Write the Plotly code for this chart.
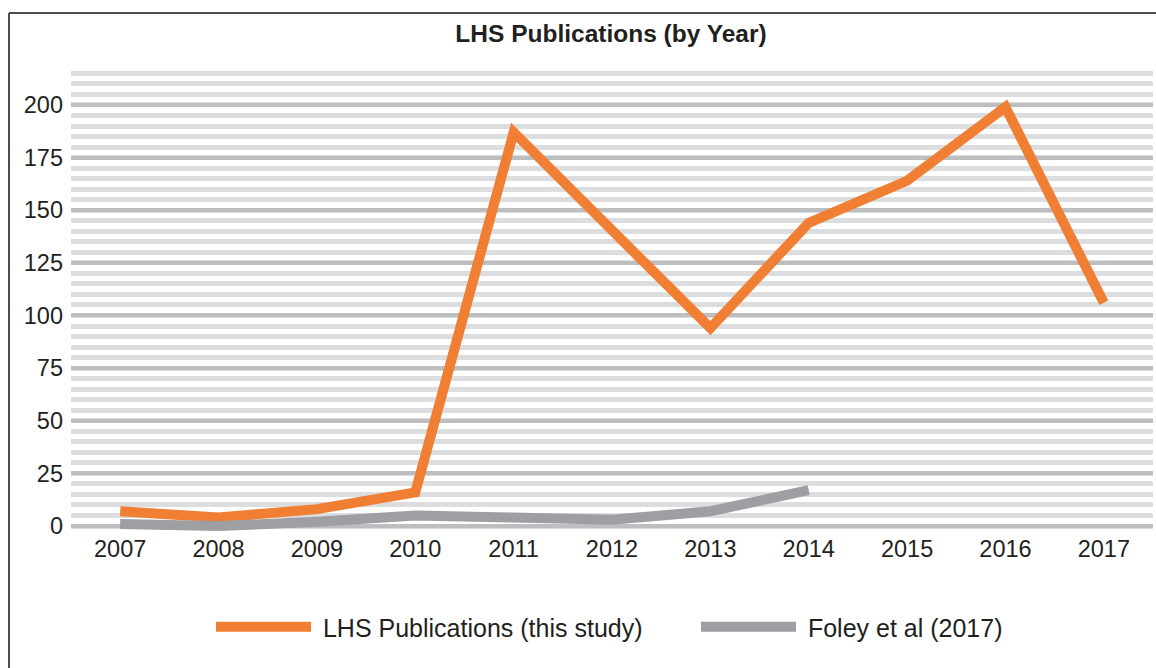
import plotly.graph_objects as go

years = ["2007", "2008", "2009", "2010", "2011", "2012", "2013", "2014", "2015", "2016", "2017"]
lhs_values = [7, 4, 8, 16, 187, 141, 94, 144, 164, 199, 106]
foley_years = ["2007", "2008", "2009", "2010", "2011", "2012", "2013", "2014"]
foley_values = [1, 0, 2, 5, 4, 3, 7, 17]
y_ticks = [0, 25, 50, 75, 100, 125, 150, 175, 200]

ORANGE = "#F07F33"
GRAY = "#9D9FA2"

fig = go.Figure()
fig.add_trace(go.Scatter(x=years, y=lhs_values, mode="lines", name="\u00a0LHS Publications (this study)",
                         line=dict(color=ORANGE, width=10), legend="legend"))
fig.add_trace(go.Scatter(x=foley_years, y=foley_values, mode="lines", name="\u00a0Foley et al (2017)",
                         line=dict(color=GRAY, width=10), legend="legend2"))

W, H = 1156, 668
L, R, T = 71, 3, 70
B = H - 532
pw = W - L - R
ph = H - T - B


def leg(x_screen):
    return dict(orientation="h", x=(x_screen - L) / pw, xanchor="left",
                y=(H - B - 627) / ph, yanchor="middle",
                font=dict(size=25, color="#231F20"), itemwidth=95,
                bgcolor="rgba(0,0,0,0)")


fx0 = (9 - L) / pw
fx1 = (W + 10 - L) / pw
fy_top = (H - B - 13) / ph
fy_bot = (H - B - (H + 10)) / ph
frame = dict(color="#4D4D4D", width=2)

fig.update_layout(
    width=W, height=H,
    margin=dict(l=L, r=R, t=T, b=B),
    paper_bgcolor="white", plot_bgcolor="white",
    font=dict(family="Liberation Sans, Arial, sans-serif", color="#231F20"),
    title=dict(text="<b>LHS Publications (by Year)</b>", x=611 / W, xanchor="center",
               y=1 - 33 / H, yanchor="middle", font=dict(size=24.5, color="#231F20")),
    showlegend=True,
    legend=leg(211),
    legend2=leg(696),
    xaxis=dict(type="category", range=[-0.5, 10.5], showgrid=False, zeroline=False,
               showline=False, ticks="", tickfont=dict(size=23.5, color="#231F20"),
               fixedrange=True),
    yaxis=dict(range=[-2.85, 216.6], tickvals=y_ticks, showgrid=True, gridcolor="#BCBEC0",
               gridwidth=4, zeroline=False, showline=False, ticks="",
               tickfont=dict(size=23.5, color="#231F20"), ticklabelstandoff=7,
               minor=dict(dtick=5, tick0=0, showgrid=True, gridcolor="#DCDDDE", gridwidth=5)),
    shapes=[
        dict(type="line", xref="paper", yref="paper", x0=fx0, x1=fx1, y0=fy_top, y1=fy_top,
             line=frame, layer="below"),
        dict(type="line", xref="paper", yref="paper", x0=fx0, x1=fx0, y0=fy_bot, y1=fy_top,
             line=frame, layer="below"),
    ],
)

fig.write_html("out.html", config={"displayModeBar": False},
               post_script="document.body.style.margin='0';document.body.style.overflow='hidden';")
